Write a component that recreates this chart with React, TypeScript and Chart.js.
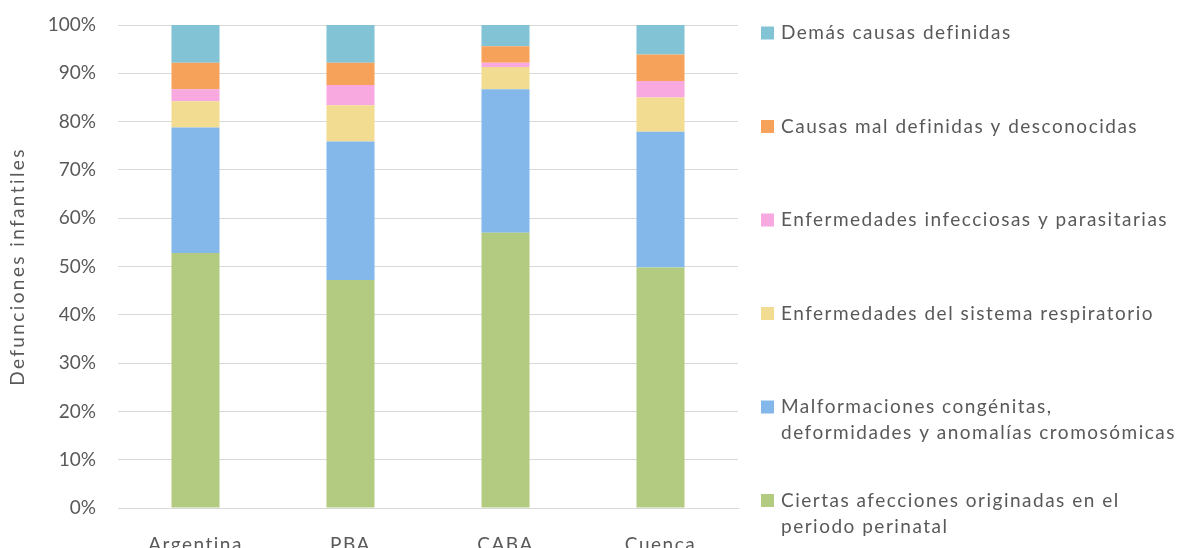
import React, { useEffect, useRef } from "react";
import { Chart, registerables } from "chart.js";

Chart.register(...registerables);

const categories = ["Argentina", "PBA", "CABA", "Cuenca"];

// Stacked shares (%) from the bottom of each column upwards
const perinatal = [52.8, 47.2, 57.0, 49.8];
const malformaciones = [26.0, 28.7, 29.7, 28.1];
const respiratorio = [5.4, 7.5, 4.6, 7.1];
const infecciosas = [2.5, 4.2, 0.9, 3.4];
const malDefinidas = [5.5, 4.6, 3.4, 5.5];
const demas = [7.8, 7.8, 4.4, 6.1];

const seriesLabels: (string | string[])[] = [
  ["Ciertas afecciones originadas en el", "periodo perinatal"],
  ["Malformaciones congénitas,", "deformidades y anomalías cromosómicas"],
  "Enfermedades del sistema respiratorio",
  "Enfermedades infecciosas y parasitarias",
  "Causas mal definidas y desconocidas",
  "Demás causas definidas",
];
const seriesColors = ["#B3CB80", "#85B8EA", "#F1DC91", "#F7A9E0", "#F6A25B", "#82C3D5"];
const seriesValues = [perinatal, malformaciones, respiratorio, infecciosas, malDefinidas, demas];

const yTicks = [0, 10, 20, 30, 40, 50, 60, 70, 80, 90, 100];

const FONT = "Lato, 'Open Sans', sans-serif";
const TEXT = "#595959";

// Wrap one of a scale's draw steps so its text uses extra letter spacing
function spaced(scale: any, method: string, spacing: string) {
  const key = `__spaced_${method}`;
  if (scale[key]) return;
  const orig = scale[method];
  scale[method] = function (...args: any[]) {
    const ctx = this.ctx;
    const prev = ctx.letterSpacing;
    ctx.letterSpacing = spacing;
    orig.apply(this, args);
    ctx.letterSpacing = prev || "0px";
  };
  scale[key] = true;
}

// Legend on the right, listed top-to-bottom in reverse stacking order
const sideLegend = {
  id: "sideLegend",
  afterDraw(chart: any) {
    const ctx = chart.ctx;
    const x0 = 761;
    const y0 = 33;
    const step = 93.5;
    const lineH = 26;
    ctx.save();
    ctx.font = `19px ${FONT}`;
    ctx.letterSpacing = "1.5px";
    ctx.textBaseline = "middle";
    ctx.textAlign = "left";
    const ds = chart.data.datasets;
    for (let i = 0; i < ds.length; i++) {
      const d = ds[ds.length - 1 - i];
      const y = y0 + i * step;
      ctx.fillStyle = d.backgroundColor;
      ctx.fillRect(x0, y - 6.5, 13, 13);
      ctx.fillStyle = TEXT;
      const lines = Array.isArray(d.label) ? d.label : [d.label];
      lines.forEach((t: string, k: number) => ctx.fillText(t, x0 + 20, y + k * lineH));
    }
    ctx.restore();
  },
};

export default function App() {
  const ref = useRef<HTMLCanvasElement | null>(null);

  useEffect(() => {
    document.body.style.margin = "0";
    const canvas = ref.current;
    if (!canvas) return;
    const chart = new Chart(canvas, {
      type: "bar",
      data: {
        labels: categories,
        datasets: seriesValues.map((vals, i) => ({
          label: seriesLabels[i] as any,
          data: vals,
          backgroundColor: seriesColors[i],
          borderWidth: 0,
          categoryPercentage: 1,
          barPercentage: 0.31,
        })),
      },
      options: {
        responsive: false,
        animation: false,
        layout: { padding: { top: 25, right: 453, left: 0, bottom: 0 } },
        plugins: {
          legend: { display: false },
          tooltip: { enabled: false },
        },
        scales: {
          x: {
            stacked: true,
            grid: { display: false, drawTicks: false },
            border: { display: true, color: "#D9D9D9", width: 1 },
            ticks: { color: TEXT, font: { family: FONT, size: 19 }, padding: 25 },
            afterFit(scale: any) {
              scale.height = 40;
              spaced(scale, "drawLabels", "1.5px");
            },
          },
          y: {
            stacked: true,
            min: 0,
            max: 100,
            afterBuildTicks(scale: any) {
              scale.ticks = yTicks.map((v) => ({ value: v }));
            },
            grid: { color: "#D9D9D9", lineWidth: 1, drawTicks: false },
            border: { display: false },
            ticks: {
              color: TEXT,
              font: { family: FONT, size: 19 },
              padding: 22,
              callback: (v: any) => `${v}%`,
            },
            title: {
              display: true,
              text: "Defunciones infantiles",
              color: TEXT,
              font: { family: FONT, size: 19 },
              padding: 6,
            },
            afterFit(scale: any) {
              scale.width = 118;
              scale.paddingTop = 0;
              scale.paddingBottom = 0;
              spaced(scale, "drawTitle", "2.4px");
            },
          },
        },
      },
      plugins: [sideLegend],
    });
    return () => chart.destroy();
  }, []);

  return (
    <div style={{ width: 1191, height: 548, background: "#fff" }}>
      <canvas ref={ref} width={1191} height={548} style={{ display: "block" }} />
    </div>
  );
}
